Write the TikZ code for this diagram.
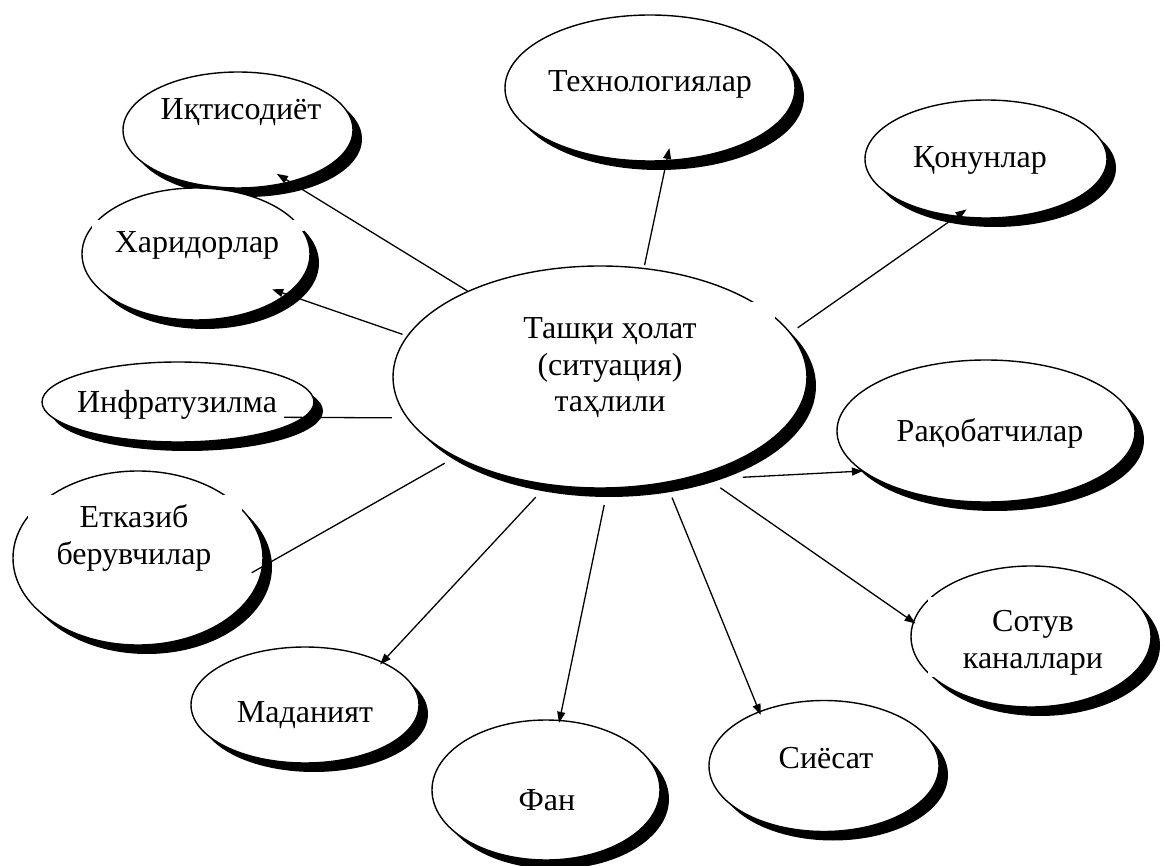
\documentclass[tikz,border=0pt]{standalone}
\usepackage{fontspec}
\setmainfont{Liberation Serif}
\usetikzlibrary{shapes.geometric,shadows,arrows.meta}
\begin{document}
\begin{tikzpicture}[x=1pt,y=-1pt,
  oval/.style={ellipse, draw=black, fill=white, line width=1.4pt, inner sep=0pt, outer sep=0pt,
     general shadow={fill=black, shadow xshift=9pt, shadow yshift=-9pt}},
  lbl/.style={font=\fontsize{32}{36.5}\selectfont, align=center, inner sep=0pt},
  gapbox/.style={fill=white},
  conn/.style={line width=1.3pt},
  arr/.style={conn, -{Triangle[length=11pt,width=8pt]}}
]
\useasboundingbox (0,0) rectangle (1163,866);
\fill[white] (0,0) rectangle (1163,866);

% ellipses
\node[oval, minimum width=414pt, minimum height=222pt] (c) at (600,377) {};
\node[oval, minimum width=290pt, minimum height=146pt] (tech) at (650,88) {};
\node[oval, minimum width=242pt, minimum height=118pt] (law) at (986,159) {};
\node[oval, minimum width=230pt, minimum height=116pt] (econ) at (238,130) {};
\node[oval, minimum width=228pt, minimum height=132pt] (buy) at (196,254) {};
\node[oval, minimum width=272pt, minimum height=80pt] (infra) at (178,402) {};
\node[oval, minimum width=298pt, minimum height=142pt] (comp) at (986,431) {};
\node[oval, minimum width=250pt, minimum height=174pt] (supp) at (138,558) {};
\node[oval, minimum width=240pt, minimum height=141pt] (sales) at (1031,636.5) {};
\node[oval, minimum width=228pt, minimum height=116pt] (cult) at (305,705) {};
\node[oval, minimum width=228pt, minimum height=140pt] (sci) at (546,790) {};
\node[oval, minimum width=230pt, minimum height=131pt] (pol) at (824,766) {};

% white text-box backgrounds that break some outlines
\fill[gapbox] (450,302) rectangle (775,425);
\fill[gapbox] (28,495) rectangle (242,590);
\fill[gapbox] (92,220) rectangle (304,231);
\fill[gapbox] (928,597) rectangle (1100,677);

% labels
\node[lbl] (cT) at (610,368) {Ташқи ҳолат\\(ситуация)\\таҳлили};
\node[lbl, anchor=base] (techT) at (650,92) {Технологиялар};
\node[lbl, anchor=base] (lawT) at (980,168) {Қонунлар};
\node[lbl, anchor=base] (econT) at (241,120) {Иқтисодиёт};
\node[lbl, anchor=base] (buyT) at (197,253) {Харидорлар};
\node[lbl, anchor=base] (infraT) at (177,413) {Инфратузилма};
\node[lbl, anchor=base] (compT) at (990,442) {Рақобатчилар};
\node[lbl] (suppT) at (134,538) {Етказиб\\берувчилар};
\node[lbl] (salesT) at (1033,643) {Сотув\\каналлари};
\node[lbl, anchor=base] (cultT) at (305,722) {Маданият};
\node[lbl, anchor=base] (sciT) at (547,810) {Фан};
\node[lbl, anchor=base] (polT) at (826,768) {Сиёсат};

% connectors
\draw[arr, shorten <=3.4pt, shorten >=-12.7pt] (c.68.7) -- (tech.-77.8);
\draw[arr, shorten <=9.2pt, shorten >=-11.8pt] (c.13.3) -- (law.-117.1);
\draw[arr, shorten <=70.1pt] (c.-55.3) -- (comp.-162.6);
\draw[arr, shorten <=24.1pt, shorten >=-2.5pt] (c.-44.1) -- (sales.173.7);
\draw[arr, shorten <=16.6pt, shorten >=-3.5pt] (c.-58.9) -- (pol.140.7);
\draw[arr, shorten <=17.4pt, shorten >=-2.4pt] (c.-86.6) -- (sci.79.8);
\draw[arr, shorten <=17.5pt, shorten >=-3pt] (c.-116.8) -- (cult.29.1);
\draw[conn, shorten <=13.1pt, shorten >=-12.3pt] (c.-151.2) -- (supp.-4.2);
\draw[conn, shorten <=15.6pt, shorten >=-19.4pt] (c.-168) -- (infra.-7.3);
\draw[arr, shorten <=5.4pt, shorten >=-15pt] (c.168.2) -- (buy.-24.8);
\draw[arr, shorten <=0.9pt, shorten >=-15.1pt] (c.147.8) -- (econ.-45.4);
\end{tikzpicture}
\end{document}
